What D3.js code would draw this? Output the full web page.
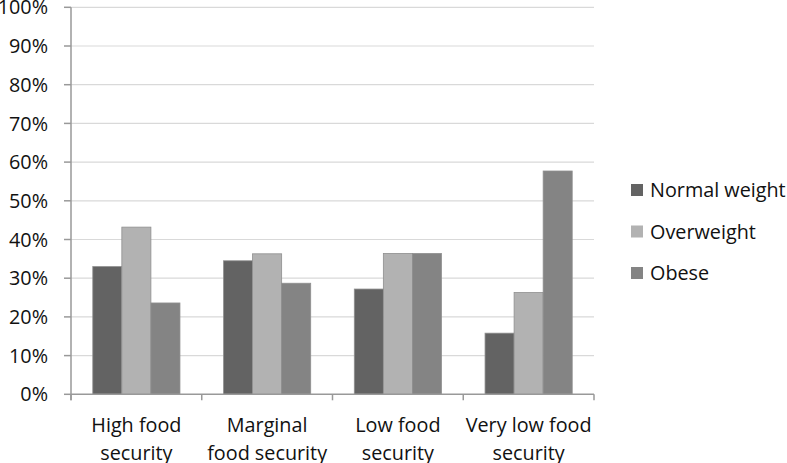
<!DOCTYPE html>
<html>
<head>
<meta charset="utf-8">
<script src="https://cdn.jsdelivr.net/npm/d3@7"></script>
<style>
body { margin: 0; background: #fff; }
text { font-family: "Open Sans", sans-serif; fill: #111; }
</style>
</head>
<body>
<svg id="chart" width="787" height="463"></svg>
<script>
var categories = [["High food", "security"], ["Marginal", "food security"], ["Low food", "security"], ["Very low food", "security"]]
var seriesNames = ["Normal weight", "Overweight", "Obese"]
var normalWeight = [33.0, 34.5, 27.2, 15.8]
var overweight = [43.2, 36.3, 36.4, 26.3]
var obese = [23.6, 28.7, 36.4, 57.7]
var yTicks = [0, 10, 20, 30, 40, 50, 60, 70, 80, 90, 100]

var colors = ["#636363", "#b2b2b2", "#848484"]
var series = [normalWeight, overweight, obese]

const LEFT = 71, RIGHT = 594, TOP = 7.3, BOTTOM = 394.3
const FS = "19.8px"
var chart = d3.select("#chart")

var x = d3.scaleBand().domain(d3.range(categories.length)).range([LEFT, RIGHT])
	.paddingInner(0).paddingOuter(0)
var y = d3.scaleLinear().domain([0, 100]).range([BOTTOM, TOP])
var barW = x.bandwidth() / 4.5
var gap = barW * 0.75

// gridlines
chart.append("g").selectAll("line").data(yTicks.slice(1)).enter()
	.append("line")
		.attr("x1", LEFT).attr("x2", RIGHT)
		.attr("y1", d => y(d)).attr("y2", d => y(d))
		.attr("stroke", "#d9d9d9").attr("stroke-width", 1.2)

// bars
var groups = chart.append("g").selectAll("g").data(series).enter()
	.append("g")
	.attr("fill", (_, i) => colors[i])
groups.selectAll("rect").data((d, si) => d.map((v, ci) => ({v: v, ci: ci, si: si}))).enter()
	.append("rect")
		.attr("x", d => x(d.ci) + gap + d.si * barW)
		.attr("width", barW)
		.attr("y", d => y(d.v))
		.attr("height", d => BOTTOM - y(d.v))
		.attr("stroke", "#8f8f8f").attr("stroke-width", 0.8)

// y axis
chart.append("line")
	.attr("x1", LEFT).attr("x2", LEFT).attr("y1", TOP).attr("y2", BOTTOM + 6)
	.attr("stroke", "#999").attr("stroke-width", 1.5)
chart.append("g").selectAll("line").data(yTicks).enter()
	.append("line")
		.attr("x1", LEFT - 7).attr("x2", LEFT)
		.attr("y1", d => y(d)).attr("y2", d => y(d))
		.attr("stroke", "#999").attr("stroke-width", 1.5)
chart.append("g").selectAll("text").data(yTicks).enter()
	.append("text")
		.attr("x", 48)
		.attr("y", d => y(d))
		.attr("dy", "0.36em")
		.attr("text-anchor", "end")
		.attr("font-size", FS)
		.text(d => d + "%")

// x axis
chart.append("line")
	.attr("x1", LEFT).attr("x2", RIGHT).attr("y1", BOTTOM).attr("y2", BOTTOM)
	.attr("stroke", "#999").attr("stroke-width", 1.5)
chart.append("g").selectAll("line").data(d3.range(categories.length + 1)).enter()
	.append("line")
		.attr("x1", d => LEFT + d * x.bandwidth()).attr("x2", d => LEFT + d * x.bandwidth())
		.attr("y1", BOTTOM).attr("y2", BOTTOM + 6)
		.attr("stroke", "#999").attr("stroke-width", 1.5)
var xl = chart.append("g").selectAll("text").data(categories).enter()
	.append("text")
		.attr("text-anchor", "middle")
		.attr("font-size", FS)
xl.selectAll("tspan").data((d, i) => d.map((s, j) => ({s: s, i: i, j: j}))).enter()
	.append("tspan")
		.attr("x", d => x(d.i) + x.bandwidth() / 2)
		.attr("y", d => 432 + d.j * 28)
		.text(d => d.s)

// legend
var leg = chart.append("g").selectAll("g").data(seriesNames).enter()
	.append("g")
	.attr("transform", (_, i) => "translate(631," + (190 + i * 41.5) + ")")
leg.append("rect")
	.attr("x", 0).attr("y", -6).attr("width", 12).attr("height", 12)
	.attr("fill", (_, i) => colors[i])
leg.append("text")
	.attr("x", 19).attr("dy", "0.36em")
	.attr("font-size", FS)
	.text(d => d)
</script>
</body>
</html>
